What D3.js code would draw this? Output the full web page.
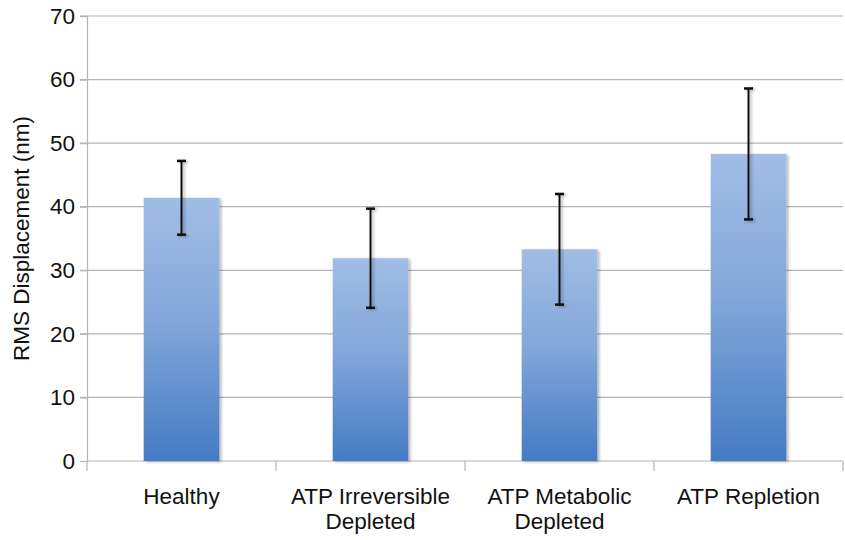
<!DOCTYPE html>
<html><head><meta charset="utf-8">
<script src="https://cdn.jsdelivr.net/npm/d3@7"></script>
<style>body{margin:0;background:#fff}svg{display:block}text{font-family:"Liberation Sans",Arial,sans-serif;fill:#111}</style>
</head><body>
<svg id="c" width="845" height="540"></svg>
<script>
const categories = [["Healthy"], ["ATP Irreversible","Depleted"], ["ATP Metabolic","Depleted"], ["ATP Repletion"]];
const means = [41.4, 31.9, 33.3, 48.3];
const errors = [5.8, 7.8, 8.7, 10.3];
const yTicks = [0,10,20,30,40,50,60,70];
const yLabel = "RMS Displacement (nm)";

const svg = d3.select("#c");
const L=87, R=843, T=16, B=461;
const FS = 22.5;
const x = d3.scaleBand().domain(d3.range(categories.length)).range([L,R]).paddingInner(0.6).paddingOuter(0.3);
const xb = d3.scaleBand().domain(d3.range(categories.length)).range([L,R]);
const y = d3.scaleLinear().domain([0,70]).range([B,T]);

const defs = svg.append("defs");
const g = defs.append("linearGradient").attr("id","bg").attr("x1",0).attr("y1",0).attr("x2",0).attr("y2",1);
g.append("stop").attr("offset","0%").attr("stop-color","#a0bde5");
g.append("stop").attr("offset","45%").attr("stop-color","#84a8da");
g.append("stop").attr("offset","100%").attr("stop-color","#447bc3");
const f = defs.append("filter").attr("id","sh").attr("x","-20%").attr("y","-5%").attr("width","150%").attr("height","115%");
f.append("feGaussianBlur").attr("in","SourceAlpha").attr("stdDeviation",1.5).attr("result","b");
f.append("feOffset").attr("in","b").attr("dx",2).attr("dy",1).attr("result","o");
f.append("feComponentTransfer").attr("in","o").attr("result","o2").append("feFuncA").attr("type","linear").attr("slope",0.3);
const m = f.append("feMerge"); m.append("feMergeNode").attr("in","o2"); m.append("feMergeNode").attr("in","SourceGraphic");

// gridlines
svg.append("g").selectAll("line").data(yTicks.filter(d=>d>0)).join("line")
  .attr("x1",L-7).attr("x2",R).attr("y1",d=>y(d)).attr("y2",d=>y(d))
  .attr("stroke","#b4b4b4").attr("stroke-width",1.2);

// y axis
const ya = svg.append("g").attr("transform",`translate(${L},0)`)
  .call(d3.axisLeft(y).tickValues(yTicks).tickSize(7).tickPadding(5));
ya.select(".domain").attr("stroke","#b4b4b4").attr("stroke-width",1.2);
ya.selectAll(".tick line").attr("stroke","#b4b4b4").attr("stroke-width",1.2);
ya.selectAll(".tick text").attr("font-size",FS).attr("fill","#111").style("font-family","Liberation Sans, Arial, sans-serif");

// x axis
const xa = svg.append("g").attr("transform",`translate(0,${B})`);
xa.append("line").attr("x1",L).attr("x2",R).attr("stroke","#b4b4b4").attr("stroke-width",1.2);
const tickPos = xb.domain().map(i=>xb(i)).concat([R]);
xa.selectAll("line.t").data(tickPos).join("line").attr("class","t")
  .attr("x1",d=>d).attr("x2",d=>d).attr("y1",0).attr("y2",10).attr("stroke","#b4b4b4").attr("stroke-width",1.2);

// bars
svg.append("g").selectAll("rect").data(means).join("rect")
  .attr("x",(d,i)=>x(i)).attr("width",x.bandwidth())
  .attr("y",d=>y(d)).attr("height",d=>B-y(d))
  .attr("fill","url(#bg)").attr("filter","url(#sh)");

// error bars
const eg = svg.append("g").attr("filter","url(#sh)");
means.forEach((mv,i)=>{
  const cx = x(i)+x.bandwidth()/2;
  const hi = y(mv+errors[i]), lo = y(mv-errors[i]);
  eg.append("line").attr("x1",cx).attr("x2",cx).attr("y1",hi).attr("y2",lo).attr("stroke","#111").attr("stroke-width",2);
  [hi,lo].forEach(v=>eg.append("line").attr("x1",cx-4.5).attr("x2",cx+4.5).attr("y1",v).attr("y2",v).attr("stroke","#111").attr("stroke-width",2.5));
});

// x labels
categories.forEach((lines,i)=>{
  const cx = xb(i)+xb.bandwidth()/2;
  const t = svg.append("text").attr("text-anchor","middle").attr("font-size",FS);
  lines.forEach((s,j)=>t.append("tspan").attr("x",cx).attr("y",504+j*25).text(s));
});

// y label
svg.append("text").attr("transform",`translate(29,${(T+B)/2}) rotate(-90)`)
  .attr("text-anchor","middle").attr("font-size",FS).text(yLabel);
</script>
</body></html>
